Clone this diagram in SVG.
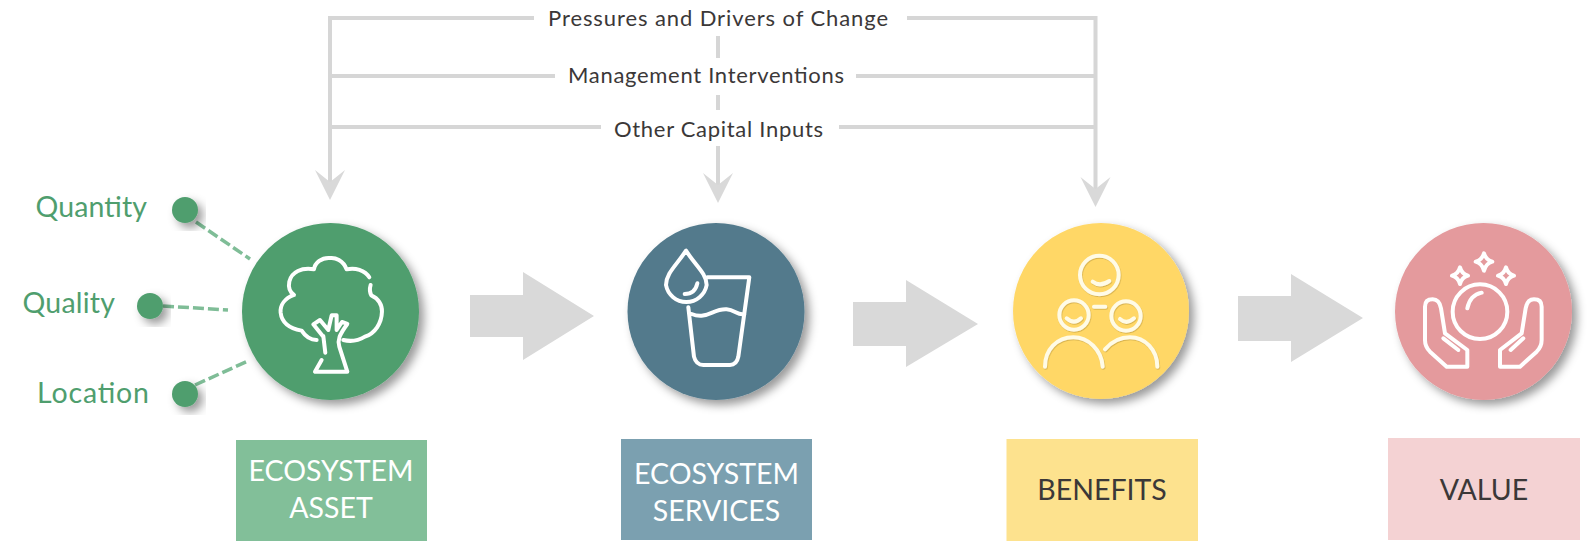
<svg xmlns="http://www.w3.org/2000/svg" width="1591" height="547" viewBox="0 0 1591 547">
<style>
.hl{fill:none;stroke:#d6d6d6;stroke-width:4}
.head{fill:#d9d9d9}
.big{fill:#d9d9d9}
.dash{fill:none;stroke:#7fbd97;stroke-width:3.5;stroke-dasharray:11 4}
.ic{fill:none;stroke:#fff;stroke-width:12;stroke-linecap:round;stroke-linejoin:round}
.t{font-family:Lato,"Liberation Sans",sans-serif;font-size:22px;fill:#3b3838}
.g{font-family:Lato,"Liberation Sans",sans-serif;font-size:28.500px;fill:#4f9e6e}
.b{font-family:Lato,"Liberation Sans",sans-serif;font-size:28.500px;text-anchor:middle}
.w{fill:#fff}.k{fill:#3b3838}
</style>
<defs>
<filter id="sh" x="-20%" y="-20%" width="150%" height="150%"><feDropShadow dx="5" dy="5" stdDeviation="5" flood-color="#000" flood-opacity=".4"/></filter>
<filter id="sh2" x="-20%" y="-20%" width="150%" height="150%"><feDropShadow dx="2" dy="3" stdDeviation="2" flood-color="#a98a30" flood-opacity=".45"/></filter>
<path id="ah" d="M-15,-30 L0,-18 L15,-30 L0,0 Z"/>
</defs>
<g id="connectors">
<path class="hl" d="M534,18H330V185M907,18H1095.500V190M555,76H332M856,76H1094M601,127H332M839,127H1094M718,36V58M718,95V110M718,146V190"/>
<use href="#ah" class="head" x="330" y="200"/>
<use href="#ah" class="head" x="718" y="203"/>
<use href="#ah" class="head" x="1095.500" y="207"/>
<path class="dash" d="M196,222L250,259M163,306L228,310M195,385L248,361"/>
<path class="big" d="M470,295H523V272L594,316L523,360V337H470Z"/>
<path class="big" d="M853,302H906V280L978,324L906,367V346H853Z"/>
<path class="big" d="M1238,296H1291V274L1363,318L1291,362V341H1238Z"/>
</g>
<g id="top-labels">
<text class="t" x="548" y="26" textLength="340" lengthAdjust="spacing">Pressures and Drivers of Change</text>
<text class="t" x="568" y="83" textLength="276" lengthAdjust="spacing">Management Interventions</text>
<text class="t" x="614" y="137" textLength="209" lengthAdjust="spacing">Other Capital Inputs</text>
</g>
<g id="quantity"><circle cx="185" cy="210" r="13" fill="#4f9e6e" filter="url(#sh)"/><text class="g" x="35.500" y="217" textLength="111.500" lengthAdjust="spacing">Quantity</text></g>
<g id="quality"><circle cx="150" cy="306" r="13" fill="#4f9e6e" filter="url(#sh)"/><text class="g" x="22.500" y="313" textLength="92.500" lengthAdjust="spacing">Quality</text></g>
<g id="location"><circle cx="185" cy="394" r="13" fill="#4f9e6e" filter="url(#sh)"/><text class="g" x="37" y="403" textLength="112" lengthAdjust="spacing">Location</text></g>
<g id="asset-icon">
<circle cx="330.500" cy="311.500" r="88.500" fill="#4f9e6e" filter="url(#sh)"/>
<g transform="translate(0 170) scale(.3333)"><path class="ic" d="M1108,322C1095,300 1065,292 1040,298C1030,270 1005,262 990,264C965,262 945,278 942,298C905,292 875,305 868,335C864,355 872,368 882,375C855,385 840,405 842,428C845,455 865,475 905,482C920,505 940,510 950,510M1112,345C1108,358 1110,368 1114,376C1135,385 1147,405 1146,425C1145,460 1125,490 1095,500C1075,512 1050,515 1030,510M970,498L976,548M965,570L945,605H1042L1018,530C1012,510 1018,495 1042,462L1026,456L1010,480L1010,436H995L985,480L960,450L940,463L970,500"/></g>
</g>
<g id="services-icon">
<circle cx="716" cy="311.500" r="88.500" fill="#527a8c" filter="url(#sh)"/>
<g transform="translate(610 210) scale(.3333)"><path class="ic" d="M228,122C200,165 168,190 168,225A62,62 0 0 0 290,225C290,190 255,165 228,122ZM224,252Q255,252 262,220M292,202H418L385,440Q380,465 360,465H280Q258,465 252,440L235,292M245,312C290,330 310,295 350,298C375,300 385,318 403,312"/></g>
</g>
<g id="benefits-icon">
<circle cx="1101" cy="311" r="88" fill="#ffd766" filter="url(#sh)"/>
<g transform="translate(1000 210) scale(.3333)" filter="url(#sh2)"><path class="ic" style="stroke:#fffbe6" d="M356,195A58,58 0 1 1 240,195A58,58 0 1 1 356,195ZM278,215Q300,232 328,213M282,290H316M266,315A44,44 0 1 1 178,315A44,44 0 1 1 266,315ZM200,325Q222,345 243,325M422,318A44,44 0 1 1 334,318A44,44 0 1 1 422,318ZM360,327Q380,345 402,325M135,470C135,420 170,382 220,382C265,382 305,420 308,470M315,418C335,395 360,382 390,382C435,382 472,420 472,470"/></g>
</g>
<g id="value-icon">
<circle cx="1483.500" cy="311.500" r="88.500" fill="#e49a9d" filter="url(#sh)"/>
<g transform="translate(1380 210) scale(.3333)"><path class="ic" d="M382,305A82,82 0 1 1 218,305A82,82 0 1 1 382,305ZM262,295Q270,255 305,248M312,130Q318,150 337,155Q318,160 312,182Q306,160 287,155Q306,150 312,130ZM240,172Q245,192 264,197Q245,202 240,222Q235,202 216,197Q235,192 240,172ZM378,172Q383,192 402,197Q383,202 378,222Q373,202 354,197Q373,192 378,172Z"/>
<path class="ic" d="M200,470L150,425Q135,410 135,390V290Q135,268 158,268Q178,268 183,295L195,370L262,420V470ZM190,385L235,420"/>
<path class="ic" d="M420,470L470,425Q485,410 485,390V290Q485,268 462,268Q442,268 437,295L425,370L360,420V470ZM430,385L392,420"/></g>
</g>
<g id="ecosystem-asset"><rect x="236" y="440" width="191" height="101" fill="#82bf99"/><text class="b w" x="331" y="481">ECOSYSTEM</text><text class="b w" x="331" y="518">ASSET</text></g>
<g id="ecosystem-services"><rect x="621" y="439" width="191" height="101" fill="#7ba0b0"/><text class="b w" x="716.500" y="484">ECOSYSTEM</text><text class="b w" x="716.500" y="521">SERVICES</text></g>
<g id="benefits"><rect x="1006.500" y="439" width="191.500" height="102" fill="#fde28e"/><text class="b k" x="1102" y="500">BENEFITS</text></g>
<g id="value"><rect x="1388" y="438" width="192" height="102" fill="#f4d2d3"/><text class="b k" x="1484" y="500">VALUE</text></g>
</svg>
